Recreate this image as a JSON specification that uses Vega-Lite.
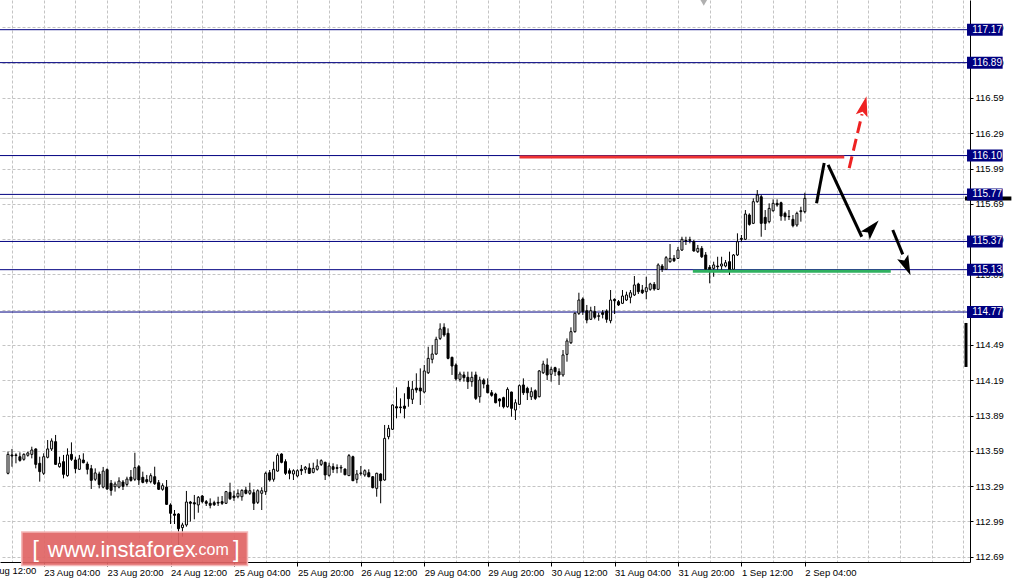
{
"$schema": "https://vega.github.io/schema/vega-lite/v6.json",
"width": 970, "height": 562,
"autosize": {"type": "none"},
"padding": {"left": 0, "top": 0, "right": 47, "bottom": 21},
"background": "white",
"config": {"view": {"stroke": null}, "font": "Liberation Sans"},
"datasets": {
"candles": [
{"i":7,"o":113.399,"h":113.583,"l":113.390,"c":113.560},
{"i":8,"o":113.555,"h":113.606,"l":113.455,"c":113.546},
{"i":9,"o":113.555,"h":113.569,"l":113.484,"c":113.550},
{"i":10,"o":113.540,"h":113.577,"l":113.498,"c":113.509},
{"i":11,"o":113.518,"h":113.569,"l":113.506,"c":113.560},
{"i":12,"o":113.552,"h":113.583,"l":113.540,"c":113.572},
{"i":13,"o":113.560,"h":113.625,"l":113.526,"c":113.597},
{"i":14,"o":113.606,"h":113.611,"l":113.441,"c":113.475},
{"i":15,"o":113.484,"h":113.540,"l":113.328,"c":113.413},
{"i":16,"o":113.399,"h":113.569,"l":113.385,"c":113.540},
{"i":17,"o":113.535,"h":113.682,"l":113.526,"c":113.606},
{"i":18,"o":113.606,"h":113.696,"l":113.589,"c":113.674},
{"i":19,"o":113.668,"h":113.725,"l":113.470,"c":113.475},
{"i":20,"o":113.455,"h":113.540,"l":113.447,"c":113.484},
{"i":21,"o":113.498,"h":113.555,"l":113.356,"c":113.390},
{"i":22,"o":113.379,"h":113.611,"l":113.370,"c":113.555},
{"i":23,"o":113.560,"h":113.662,"l":113.504,"c":113.518},
{"i":24,"o":113.512,"h":113.540,"l":113.399,"c":113.438},
{"i":25,"o":113.433,"h":113.555,"l":113.427,"c":113.521},
{"i":26,"o":113.512,"h":113.569,"l":113.484,"c":113.489},
{"i":27,"o":113.478,"h":113.498,"l":113.390,"c":113.433},
{"i":28,"o":113.438,"h":113.470,"l":113.266,"c":113.339},
{"i":29,"o":113.348,"h":113.441,"l":113.333,"c":113.402},
{"i":30,"o":113.393,"h":113.413,"l":113.271,"c":113.305},
{"i":31,"o":113.282,"h":113.453,"l":113.271,"c":113.418},
{"i":32,"o":113.430,"h":113.441,"l":113.257,"c":113.266},
{"i":33,"o":113.314,"h":113.342,"l":113.209,"c":113.254},
{"i":34,"o":113.285,"h":113.328,"l":113.243,"c":113.308},
{"i":35,"o":113.282,"h":113.365,"l":113.271,"c":113.333},
{"i":36,"o":113.325,"h":113.342,"l":113.257,"c":113.288},
{"i":37,"o":113.305,"h":113.370,"l":113.285,"c":113.350},
{"i":38,"o":113.367,"h":113.427,"l":113.328,"c":113.339},
{"i":39,"o":113.348,"h":113.574,"l":113.333,"c":113.447},
{"i":40,"o":113.455,"h":113.470,"l":113.300,"c":113.342},
{"i":41,"o":113.365,"h":113.413,"l":113.314,"c":113.322},
{"i":42,"o":113.345,"h":113.385,"l":113.311,"c":113.328},
{"i":43,"o":113.328,"h":113.399,"l":113.314,"c":113.379},
{"i":44,"o":113.370,"h":113.455,"l":113.300,"c":113.311},
{"i":45,"o":113.319,"h":113.342,"l":113.257,"c":113.263},
{"i":46,"o":113.263,"h":113.314,"l":113.251,"c":113.294},
{"i":47,"o":113.282,"h":113.342,"l":113.130,"c":113.135},
{"i":48,"o":113.130,"h":113.144,"l":112.968,"c":113.059},
{"i":49,"o":113.053,"h":113.087,"l":112.968,"c":113.042},
{"i":50,"o":113.053,"h":113.060,"l":112.790,"c":112.928},
{"i":51,"o":112.937,"h":112.979,"l":112.860,"c":112.960},
{"i":52,"o":112.960,"h":113.249,"l":112.945,"c":113.155},
{"i":53,"o":113.155,"h":113.164,"l":112.988,"c":113.144},
{"i":54,"o":113.149,"h":113.215,"l":113.008,"c":113.138},
{"i":55,"o":113.130,"h":113.206,"l":113.064,"c":113.195},
{"i":56,"o":113.206,"h":113.215,"l":113.144,"c":113.158},
{"i":57,"o":113.158,"h":113.172,"l":113.121,"c":113.144},
{"i":58,"o":113.144,"h":113.186,"l":113.101,"c":113.127},
{"i":59,"o":113.149,"h":113.166,"l":113.121,"c":113.132},
{"i":60,"o":113.152,"h":113.200,"l":113.121,"c":113.146},
{"i":61,"o":113.158,"h":113.206,"l":113.130,"c":113.144},
{"i":62,"o":113.144,"h":113.249,"l":113.138,"c":113.243},
{"i":63,"o":113.237,"h":113.319,"l":113.172,"c":113.183},
{"i":64,"o":113.206,"h":113.251,"l":113.164,"c":113.192},
{"i":65,"o":113.200,"h":113.263,"l":113.186,"c":113.229},
{"i":66,"o":113.200,"h":113.263,"l":113.166,"c":113.254},
{"i":67,"o":113.257,"h":113.285,"l":113.220,"c":113.229},
{"i":68,"o":113.229,"h":113.319,"l":113.215,"c":113.251},
{"i":69,"o":113.234,"h":113.263,"l":113.087,"c":113.144},
{"i":70,"o":113.152,"h":113.263,"l":113.138,"c":113.251},
{"i":71,"o":113.229,"h":113.280,"l":113.087,"c":113.251},
{"i":72,"o":113.243,"h":113.413,"l":113.215,"c":113.399},
{"i":73,"o":113.404,"h":113.427,"l":113.328,"c":113.342},
{"i":74,"o":113.348,"h":113.498,"l":113.328,"c":113.433},
{"i":75,"o":113.418,"h":113.569,"l":113.413,"c":113.552},
{"i":76,"o":113.563,"h":113.569,"l":113.484,"c":113.492},
{"i":77,"o":113.498,"h":113.518,"l":113.385,"c":113.399},
{"i":78,"o":113.421,"h":113.441,"l":113.348,"c":113.399},
{"i":79,"o":113.393,"h":113.433,"l":113.342,"c":113.421},
{"i":80,"o":113.376,"h":113.433,"l":113.365,"c":113.421},
{"i":81,"o":113.433,"h":113.470,"l":113.385,"c":113.421},
{"i":82,"o":113.433,"h":113.461,"l":113.399,"c":113.450},
{"i":83,"o":113.444,"h":113.484,"l":113.393,"c":113.399},
{"i":84,"o":113.407,"h":113.489,"l":113.399,"c":113.441},
{"i":85,"o":113.433,"h":113.518,"l":113.421,"c":113.461},
{"i":86,"o":113.475,"h":113.518,"l":113.461,"c":113.506},
{"i":87,"o":113.492,"h":113.498,"l":113.342,"c":113.385},
{"i":88,"o":113.382,"h":113.489,"l":113.370,"c":113.461},
{"i":89,"o":113.455,"h":113.484,"l":113.402,"c":113.433},
{"i":90,"o":113.447,"h":113.475,"l":113.399,"c":113.441},
{"i":91,"o":113.444,"h":113.470,"l":113.404,"c":113.450},
{"i":92,"o":113.435,"h":113.441,"l":113.382,"c":113.387},
{"i":93,"o":113.379,"h":113.563,"l":113.376,"c":113.549},
{"i":94,"o":113.540,"h":113.549,"l":113.333,"c":113.336},
{"i":95,"o":113.348,"h":113.427,"l":113.314,"c":113.393},
{"i":96,"o":113.396,"h":113.461,"l":113.379,"c":113.402},
{"i":97,"o":113.385,"h":113.433,"l":113.370,"c":113.421},
{"i":98,"o":113.404,"h":113.433,"l":113.365,"c":113.370},
{"i":99,"o":113.370,"h":113.376,"l":113.271,"c":113.277},
{"i":100,"o":113.271,"h":113.404,"l":113.200,"c":113.399},
{"i":101,"o":113.393,"h":113.399,"l":113.144,"c":113.336},
{"i":102,"o":113.342,"h":113.810,"l":113.336,"c":113.696},
{"i":103,"o":113.710,"h":113.810,"l":113.688,"c":113.781},
{"i":104,"o":113.773,"h":113.985,"l":113.767,"c":113.980},
{"i":105,"o":113.965,"h":114.130,"l":113.866,"c":113.954},
{"i":106,"o":113.963,"h":114.036,"l":113.909,"c":113.957},
{"i":107,"o":113.971,"h":114.079,"l":113.866,"c":113.951},
{"i":108,"o":114.130,"h":114.184,"l":113.965,"c":114.033},
{"i":109,"o":114.028,"h":114.184,"l":113.988,"c":114.113},
{"i":110,"o":114.124,"h":114.249,"l":114.084,"c":114.107},
{"i":111,"o":114.124,"h":114.291,"l":113.980,"c":114.099},
{"i":112,"o":114.090,"h":114.320,"l":114.079,"c":114.269},
{"i":113,"o":114.254,"h":114.475,"l":114.243,"c":114.376},
{"i":114,"o":114.368,"h":114.490,"l":114.334,"c":114.413},
{"i":115,"o":114.413,"h":114.560,"l":114.405,"c":114.538},
{"i":116,"o":114.546,"h":114.674,"l":114.532,"c":114.626},
{"i":117,"o":114.640,"h":114.674,"l":114.560,"c":114.575},
{"i":118,"o":114.589,"h":114.631,"l":114.368,"c":114.376},
{"i":119,"o":114.385,"h":114.390,"l":114.235,"c":114.311},
{"i":120,"o":114.320,"h":114.334,"l":114.186,"c":114.201},
{"i":121,"o":114.198,"h":114.263,"l":114.178,"c":114.243},
{"i":122,"o":114.235,"h":114.263,"l":114.178,"c":114.212},
{"i":123,"o":114.215,"h":114.263,"l":114.116,"c":114.178},
{"i":124,"o":114.178,"h":114.263,"l":114.135,"c":114.215},
{"i":125,"o":114.235,"h":114.263,"l":114.022,"c":114.036},
{"i":126,"o":114.050,"h":114.220,"l":113.999,"c":114.192},
{"i":127,"o":114.192,"h":114.206,"l":114.121,"c":114.158},
{"i":128,"o":114.150,"h":114.206,"l":114.079,"c":114.084},
{"i":129,"o":114.084,"h":114.107,"l":114.050,"c":114.062},
{"i":130,"o":114.073,"h":114.084,"l":113.994,"c":113.999},
{"i":131,"o":114.031,"h":114.036,"l":113.965,"c":114.014},
{"i":132,"o":114.042,"h":114.050,"l":113.951,"c":113.965},
{"i":133,"o":113.965,"h":114.130,"l":113.957,"c":114.113},
{"i":134,"o":114.090,"h":114.093,"l":113.880,"c":113.951},
{"i":135,"o":113.937,"h":114.028,"l":113.852,"c":113.999},
{"i":136,"o":113.985,"h":114.155,"l":113.980,"c":114.144},
{"i":137,"o":114.150,"h":114.206,"l":114.065,"c":114.084},
{"i":138,"o":114.121,"h":114.135,"l":114.022,"c":114.084},
{"i":139,"o":114.050,"h":114.130,"l":114.022,"c":114.093},
{"i":140,"o":114.101,"h":114.113,"l":114.022,"c":114.036},
{"i":141,"o":114.050,"h":114.277,"l":114.045,"c":114.269},
{"i":142,"o":114.254,"h":114.356,"l":114.243,"c":114.328},
{"i":143,"o":114.320,"h":114.376,"l":114.192,"c":114.235},
{"i":144,"o":114.241,"h":114.305,"l":114.178,"c":114.283},
{"i":145,"o":114.297,"h":114.305,"l":114.226,"c":114.263},
{"i":146,"o":114.263,"h":114.291,"l":114.150,"c":114.235},
{"i":147,"o":114.235,"h":114.447,"l":114.220,"c":114.405},
{"i":148,"o":114.410,"h":114.546,"l":114.348,"c":114.524},
{"i":149,"o":114.509,"h":114.640,"l":114.498,"c":114.603},
{"i":150,"o":114.603,"h":114.767,"l":114.594,"c":114.759},
{"i":151,"o":114.759,"h":114.934,"l":114.745,"c":114.872},
{"i":152,"o":114.881,"h":114.895,"l":114.745,"c":114.773},
{"i":153,"o":114.781,"h":114.830,"l":114.674,"c":114.702},
{"i":154,"o":114.708,"h":114.815,"l":114.702,"c":114.781},
{"i":155,"o":114.773,"h":114.821,"l":114.708,"c":114.725},
{"i":156,"o":114.733,"h":114.764,"l":114.696,"c":114.739},
{"i":157,"o":114.764,"h":114.787,"l":114.716,"c":114.750},
{"i":158,"o":114.779,"h":114.793,"l":114.679,"c":114.708},
{"i":159,"o":114.696,"h":114.957,"l":114.674,"c":114.872},
{"i":160,"o":114.878,"h":114.886,"l":114.753,"c":114.866},
{"i":161,"o":114.858,"h":114.872,"l":114.821,"c":114.830},
{"i":162,"o":114.844,"h":114.957,"l":114.838,"c":114.906},
{"i":163,"o":114.872,"h":114.943,"l":114.864,"c":114.915},
{"i":164,"o":114.895,"h":114.957,"l":114.844,"c":114.934},
{"i":165,"o":114.915,"h":115.076,"l":114.906,"c":115.000},
{"i":166,"o":115.008,"h":115.019,"l":114.923,"c":114.943},
{"i":167,"o":114.957,"h":115.000,"l":114.923,"c":114.934},
{"i":168,"o":114.943,"h":115.070,"l":114.878,"c":114.977},
{"i":169,"o":114.963,"h":115.019,"l":114.951,"c":115.008},
{"i":170,"o":115.005,"h":115.025,"l":114.951,"c":114.966},
{"i":171,"o":114.963,"h":115.184,"l":114.957,"c":115.170},
{"i":172,"o":115.161,"h":115.178,"l":115.110,"c":115.133},
{"i":173,"o":115.133,"h":115.246,"l":115.127,"c":115.232},
{"i":174,"o":115.198,"h":115.348,"l":115.189,"c":115.226},
{"i":175,"o":115.226,"h":115.255,"l":115.195,"c":115.206},
{"i":176,"o":115.226,"h":115.323,"l":115.221,"c":115.297},
{"i":177,"o":115.297,"h":115.410,"l":115.289,"c":115.388},
{"i":178,"o":115.379,"h":115.410,"l":115.340,"c":115.374},
{"i":179,"o":115.379,"h":115.410,"l":115.354,"c":115.385},
{"i":180,"o":115.368,"h":115.382,"l":115.283,"c":115.289},
{"i":181,"o":115.283,"h":115.340,"l":115.272,"c":115.311},
{"i":182,"o":115.311,"h":115.331,"l":115.229,"c":115.240},
{"i":183,"o":115.255,"h":115.280,"l":115.113,"c":115.133},
{"i":184,"o":115.150,"h":115.170,"l":115.014,"c":115.127},
{"i":185,"o":115.141,"h":115.198,"l":115.070,"c":115.170},
{"i":186,"o":115.161,"h":115.240,"l":115.127,"c":115.155},
{"i":187,"o":115.161,"h":115.240,"l":115.127,"c":115.178},
{"i":188,"o":115.161,"h":115.212,"l":115.150,"c":115.189},
{"i":189,"o":115.198,"h":115.283,"l":115.085,"c":115.127},
{"i":190,"o":115.133,"h":115.263,"l":115.113,"c":115.255},
{"i":191,"o":115.255,"h":115.439,"l":115.246,"c":115.368},
{"i":192,"o":115.396,"h":115.425,"l":115.368,"c":115.388},
{"i":193,"o":115.388,"h":115.637,"l":115.382,"c":115.603},
{"i":194,"o":115.595,"h":115.609,"l":115.504,"c":115.515},
{"i":195,"o":115.524,"h":115.736,"l":115.518,"c":115.708},
{"i":196,"o":115.708,"h":115.807,"l":115.699,"c":115.765},
{"i":197,"o":115.750,"h":115.765,"l":115.410,"c":115.524},
{"i":198,"o":115.575,"h":115.637,"l":115.467,"c":115.524},
{"i":199,"o":115.538,"h":115.694,"l":115.524,"c":115.651},
{"i":200,"o":115.631,"h":115.728,"l":115.623,"c":115.694},
{"i":201,"o":115.694,"h":115.728,"l":115.665,"c":115.680},
{"i":202,"o":115.699,"h":115.708,"l":115.546,"c":115.586},
{"i":203,"o":115.609,"h":115.623,"l":115.546,"c":115.580},
{"i":204,"o":115.583,"h":115.637,"l":115.552,"c":115.580},
{"i":205,"o":115.558,"h":115.595,"l":115.490,"c":115.504},
{"i":206,"o":115.510,"h":115.623,"l":115.495,"c":115.609},
{"i":207,"o":115.631,"h":115.665,"l":115.538,"c":115.623},
{"i":208,"o":115.623,"h":115.784,"l":115.609,"c":115.736}
],
"levels": [{"p":117.17},{"p":116.89},{"p":116.10},{"p":115.77},{"p":115.37},{"p":115.13},{"p":114.77}],
"bid": [{"p":115.736}],
"blackSolid": [
{"g":1,"i":210.95,"p":115.694},{"g":1,"i":212.88,"p":116.037},
{"g":2,"i":213.87,"p":116.020},{"g":2,"i":222.36,"p":115.410},
{"g":3,"i":230.18,"p":115.467},{"g":3,"i":232.7,"p":115.26}
],
"redDash": [{"i":219.19,"p":115.994},{"i":222.44,"p":116.453}],
"heads": [
{"col":"black","i":224.93,"p":115.484,"a":42},
{"col":"black","i":233.67,"p":115.161,"a":157},
{"col":"#ee2222","i":222.94,"p":116.521,"a":14}
],
"logo": [
{"t":"[","i":13.98,"s":24},
{"t":"www.instaforex","i":35.7,"s":22},
{"t":".com","i":58.3,"s":16},
{"t":"]","i":64.6,"s":24}
]
},
"layer": [
{"data": {"name": "bid"}, "mark": {"type": "rule", "color": "#c0c0c0", "strokeWidth": 1},
 "encoding": {
  "y": {"field": "p", "type": "quantitative",
   "scale": {"type": "linear", "domain": [112.645, 117.4225], "nice": false, "zero": false},
   "axis": {"orient": "right", "title": null, "tickCount": 100, "values": [112.69,112.99,113.29,113.59,113.89,114.19,114.49,114.79,115.09,115.39,115.69,115.99,116.29,116.59,116.89,117.19],
    "format": ".2f", "domainColor": "black", "domainWidth": 1, "tickColor": "black", "tickSize": 3,
    "labelPadding": 2, "labelFontSize": 9.5, "labelColor": "black", "labelFont": "Liberation Sans",
    "labelOverlap": false, "labelFlush": false, "labelBound": false,
    "grid": true, "gridColor": "#c4c4c4", "gridDash": [3, 2], "gridWidth": 1}
  }
 }},
{"data": {"name": "levels"}, "mark": {"type": "rule", "color": "#000080", "strokeWidth": 1},
 "encoding": {"y": {"field": "p", "type": "quantitative"}}},
{"data": {"name": "candles"}, "mark": {"type": "rule", "color": "black", "strokeWidth": 1},
 "encoding": {
  "x": {"field": "i", "type": "quantitative",
   "scale": {"type": "linear", "domain": [6.24, 248.4], "nice": false, "zero": false},
   "axis": {"orient": "bottom", "title": null, "tickCount": 100,
    "values": [8,16,24,32,40,48,56,64,72,80,88,96,104,112,120,128,136,144,152,160,168,176,184,192,200,208,216,224,232,240,248],
    "labelExpr": "(datum.value % 16 === 0 && datum.value <= 208) ? ['22 Aug 12:00','23 Aug 04:00','23 Aug 20:00','24 Aug 12:00','25 Aug 04:00','25 Aug 20:00','26 Aug 12:00','29 Aug 04:00','29 Aug 20:00','30 Aug 12:00','31 Aug 04:00','31 Aug 20:00','1 Sep 12:00','2 Sep 04:00'][datum.value / 16] : ''",
    "domainColor": "black", "domainWidth": 1, "tickColor": "black", "tickSize": 4,
    "tickOpacity": {"condition": {"test": "datum.value % 16 === 0 && datum.value <= 208", "value": 1}, "value": 0},
    "labelAlign": "left", "labelBaseline": "top", "labelPadding": 1, "labelFontSize": 9.5, "labelColor": "black", "labelFont": "Liberation Sans",
    "labelOverlap": false, "labelFlush": false, "labelBound": false,
    "grid": true, "gridColor": "#c4c4c4", "gridDash": [3, 2], "gridWidth": 1}
  },
  "y": {"field": "l", "type": "quantitative"},
  "y2": {"field": "h"}
 }},
{"data": {"name": "candles"}, "mark": {"type": "bar", "width": 2, "stroke": "black", "strokeWidth": 1},
 "encoding": {
  "x": {"field": "i", "type": "quantitative"},
  "y": {"field": "o", "type": "quantitative"},
  "y2": {"field": "c"},
  "fill": {"condition": {"test": "datum.c > datum.o", "value": "white"}, "value": "black"}
 }},
{"data": {"values": [{"t": "22 Aug 12:00"}]}, "mark": {"type": "text", "color": "black", "fontSize": 9.5, "font": "Liberation Sans", "align": "left", "baseline": "middle"},
 "encoding": {"x": {"datum": 0.0}, "y": {"datum": 112.566}, "text": {"field": "t"}}},
{"data": {"values": [{"t": "logo"}]}, "mark": {"type": "rect", "fill": "#df6464", "fillOpacity": 0.92, "stroke": "#f4b8b8", "strokeWidth": 1.5},
 "encoding": {"x": {"datum": 10.48}, "x2": {"datum": 67.4}, "y": {"datum": 112.9}, "y2": {"datum": 112.615}}},
{"data": {"name": "logo"}, "mark": {"type": "text", "color": "white", "font": "Liberation Sans", "align": "center", "baseline": "middle"},
 "encoding": {"x": {"field": "i", "type": "quantitative"}, "y": {"datum": 112.75}, "text": {"field": "t"},
  "size": {"field": "s", "type": "quantitative", "scale": null}}},
{"data": {"values": [{"p": 116.088}]}, "mark": {"type": "rule", "color": "#ee3333", "strokeWidth": 3},
 "encoding": {"x": {"datum": 136.06}, "x2": {"datum": 217.94}, "y": {"field": "p", "type": "quantitative"}}},
{"data": {"values": [{"p": 115.116}]}, "mark": {"type": "rule", "color": "#2fb060", "strokeWidth": 3},
 "encoding": {"x": {"datum": 179.75}, "x2": {"datum": 229.68}, "y": {"field": "p", "type": "quantitative"}}},
{"data": {"name": "blackSolid"}, "mark": {"type": "line", "color": "black", "strokeWidth": 3, "strokeCap": "butt"},
 "encoding": {"x": {"field": "i", "type": "quantitative"}, "y": {"field": "p", "type": "quantitative"}, "detail": {"field": "g"}}},
{"data": {"name": "redDash"}, "mark": {"type": "line", "color": "#ee2222", "strokeWidth": 3, "strokeDash": [12, 6], "strokeCap": "butt"},
 "encoding": {"x": {"field": "i", "type": "quantitative"}, "y": {"field": "p", "type": "quantitative"}}},
{"data": {"name": "heads"}, "mark": {"type": "point", "filled": true, "opacity": 1, "shape": "M0,-1L0.6,1L0,0.6L-0.6,1Z", "size": 400},
 "encoding": {"x": {"field": "i", "type": "quantitative"}, "y": {"field": "p", "type": "quantitative"},
  "angle": {"field": "a", "type": "quantitative", "scale": null},
  "color": {"field": "col", "type": "nominal", "scale": null, "legend": null}}},
{"data": {"values": [{"a": 114.677, "b": 114.303}]}, "mark": {"type": "rule", "color": "black", "strokeWidth": 3, "strokeCap": "butt"},
 "encoding": {"x": {"datum": 248.65}, "y": {"field": "a", "type": "quantitative"}, "y2": {"field": "b"}}},
{"data": {"values": [{"p": 117.40}]}, "mark": {"type": "point", "shape": "triangle-down", "filled": true, "color": "#b0b0b0", "size": 50, "opacity": 1},
 "encoding": {"x": {"datum": 182.5}, "y": {"field": "p", "type": "quantitative"}}},
{"data": {"name": "bid"}, "mark": {"type": "rule", "color": "black", "strokeWidth": 4, "strokeCap": "butt"},
 "encoding": {"x": {"datum": 248.4}, "x2": {"datum": 260.1}, "y": {"field": "p", "type": "quantitative"}}},
{"data": {"name": "levels"}, "mark": {"type": "rule", "color": "#000080", "strokeWidth": 12, "strokeCap": "butt"},
 "encoding": {"x": {"datum": 248.91}, "x2": {"datum": 257.9}, "y": {"field": "p", "type": "quantitative"}}},
{"data": {"name": "levels"}, "mark": {"type": "text", "color": "white", "fontSize": 10, "font": "Liberation Sans", "align": "left", "baseline": "middle"},
 "encoding": {"x": {"datum": 250.2}, "y": {"field": "p", "type": "quantitative"}, "text": {"field": "p", "type": "quantitative", "format": ".2f"}}}
]
}
